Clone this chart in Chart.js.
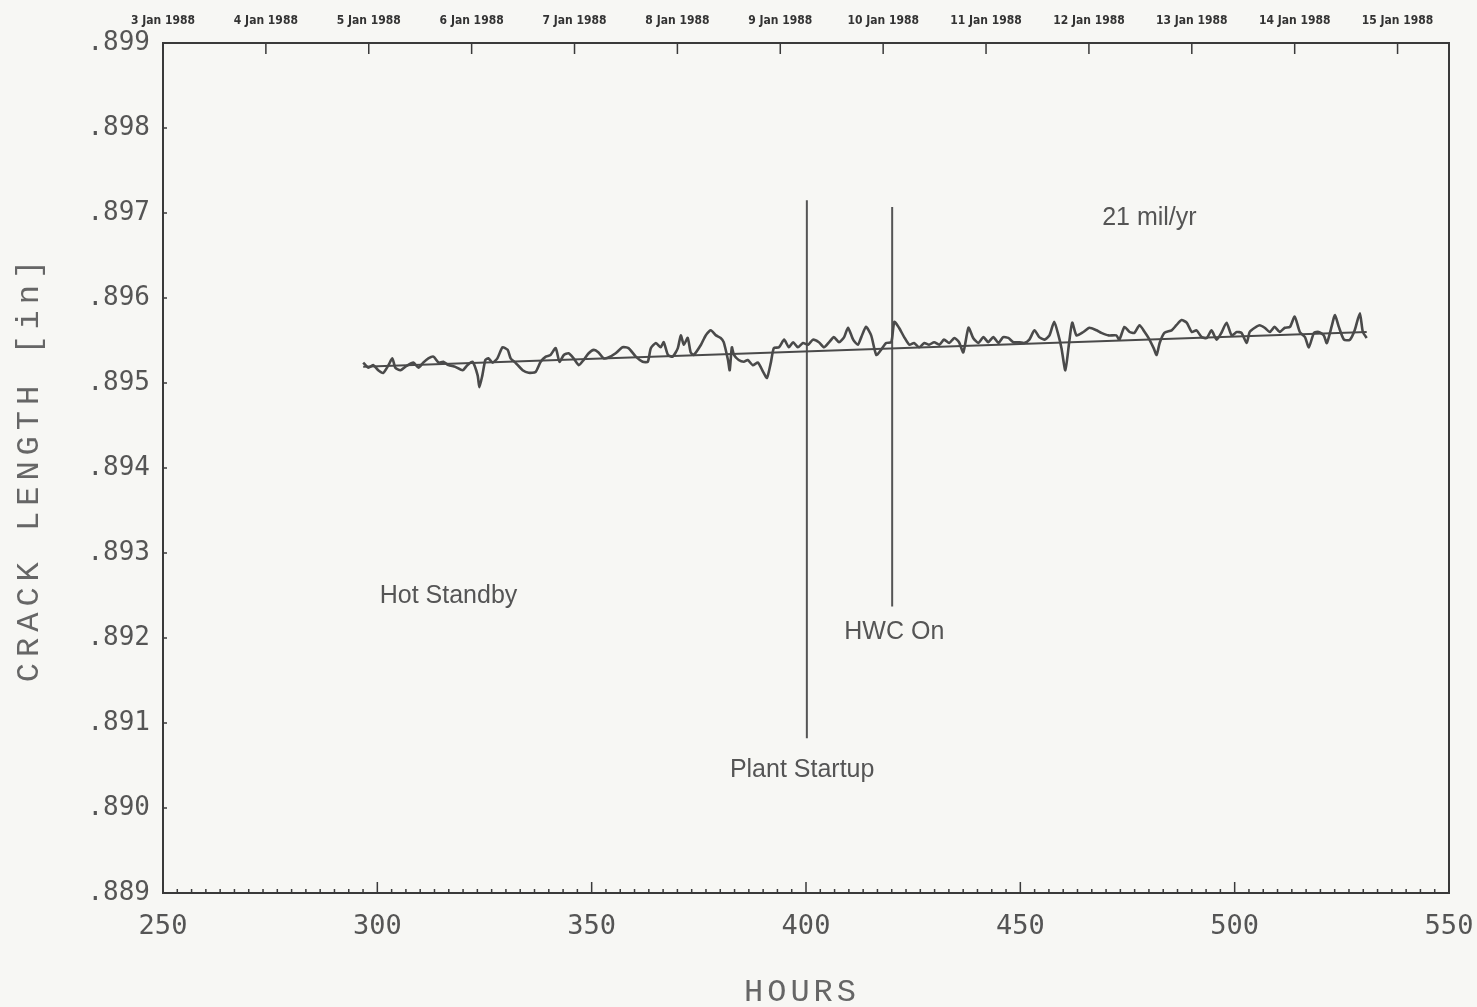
<!DOCTYPE html>
<html>
<head>
<meta charset="utf-8">
<title>Crack length vs hours</title>
<script src="https://cdn.jsdelivr.net/npm/chart.js@4"></script>
<style>
html, body { margin: 0; padding: 0; background: #f7f7f4; }
#chart { display: block; }
</style>
</head>
<body>
<canvas id="chart" width="1477" height="1007"></canvas>
<script>
// Crack length readings (hours, inches)
const hours = [
  296.7, 297.9, 299.1, 300.2, 301.4, 302.6, 303.5, 304.2, 305.4, 306.8,
  308.4, 309.6, 310.7, 311.9, 313.1, 314.3, 315.4, 316.6, 318.2, 319.9,
  321.0, 322.2, 323.4, 323.8, 324.5, 325.2, 325.9, 326.9, 328.0, 329.2,
  330.4, 331.1, 332.2, 333.9, 335.3, 336.9, 338.1, 339.3, 340.4, 341.6,
  342.5, 343.5, 344.6, 345.8, 347.0, 348.1, 349.3, 350.5, 351.6, 352.8,
  353.9, 355.6, 357.2, 358.6, 360.3, 361.9, 363.1, 363.8, 365.0, 366.1,
  366.8, 367.8, 368.9, 370.1, 370.8, 371.5, 372.4, 373.1, 373.8, 375.5,
  376.6, 377.8, 379.0, 380.1, 380.8, 381.8, 382.2, 382.7, 383.2, 384.3,
  385.5, 386.4, 387.6, 388.8, 390.0, 390.9, 391.8, 392.5, 393.7, 394.9,
  396.0, 397.0, 398.1, 399.3, 400.5, 401.6, 403.0, 404.2, 405.4, 406.5,
  407.7, 408.9, 409.8, 411.0, 412.1, 412.9, 414.0, 415.2, 416.4, 417.5,
  418.7, 419.9, 420.6, 421.7, 422.9, 424.1, 425.2, 426.4, 427.6, 428.7,
  429.9, 431.1, 432.2, 433.4, 434.6, 435.7, 436.7, 437.9, 439.0, 440.2,
  441.4, 442.5, 443.7, 444.9, 446.0, 447.2, 448.4, 449.8, 450.9, 452.1,
  453.3, 454.4, 455.6, 456.8, 457.9, 458.9, 459.6, 460.5, 461.4, 462.1,
  463.1, 464.7, 466.1, 467.8, 468.9, 470.6, 472.4, 473.1, 474.3, 475.5,
  476.6, 477.8, 479.0, 479.9, 481.1, 481.8, 482.5, 483.6, 485.3, 486.4,
  487.6, 488.8, 490.0, 491.1, 492.3, 493.5, 494.6, 495.8, 497.0, 498.1,
  499.3, 500.5, 501.6, 502.8, 503.5, 504.7, 505.8, 507.0, 508.2, 509.3,
  510.5, 511.7, 512.9, 514.0, 515.2, 516.4, 517.3, 518.5, 519.6, 520.8,
  521.5, 522.7, 523.4, 524.3, 525.5, 526.9, 528.0, 529.2, 529.9, 530.8
];
const crack = [
  0.89524, 0.89518, 0.89521, 0.89515, 0.89512, 0.89521, 0.89529, 0.89518, 0.89515, 0.89520,
  0.89524, 0.89518, 0.89524, 0.89529, 0.89531, 0.89524, 0.89525, 0.89521, 0.89519, 0.89515,
  0.89521, 0.89525, 0.89509, 0.89495, 0.89509, 0.89527, 0.89529, 0.89524, 0.89529, 0.89542,
  0.89539, 0.89529, 0.89524, 0.89515, 0.89512, 0.89513, 0.89525, 0.89531, 0.89533, 0.89541,
  0.89525, 0.89533, 0.89535, 0.89529, 0.89521, 0.89527, 0.89535, 0.89539, 0.89536, 0.89529,
  0.89530, 0.89535, 0.89542, 0.89541, 0.89531, 0.89525, 0.89525, 0.89541, 0.89547, 0.89542,
  0.89548, 0.89533, 0.89531, 0.89541, 0.89556, 0.89545, 0.89553, 0.89536, 0.89533, 0.89545,
  0.89556, 0.89562, 0.89556, 0.89553, 0.89548, 0.89527, 0.89515, 0.89542, 0.89533, 0.89527,
  0.89525, 0.89527, 0.89521, 0.89524, 0.89513, 0.89506, 0.89524, 0.89541, 0.89542, 0.89551,
  0.89542, 0.89548, 0.89542, 0.89547, 0.89545, 0.89551, 0.89548, 0.89542, 0.89548, 0.89554,
  0.89548, 0.89554, 0.89565, 0.89551, 0.89545, 0.89554, 0.89566, 0.89556, 0.89533, 0.89539,
  0.89547, 0.89548, 0.89572, 0.89565, 0.89554, 0.89545, 0.89547, 0.89542, 0.89547, 0.89545,
  0.89548, 0.89545, 0.89551, 0.89547, 0.89553, 0.89548, 0.89536, 0.89565, 0.89553, 0.89547,
  0.89554, 0.89548, 0.89554, 0.89547, 0.89554, 0.89553, 0.89548, 0.89548, 0.89547, 0.89551,
  0.89562, 0.89554, 0.89551, 0.89556, 0.89572, 0.89556, 0.89541, 0.89515, 0.89548, 0.89571,
  0.89556, 0.89560, 0.89565, 0.89562, 0.89559, 0.89556, 0.89556, 0.89551, 0.89566, 0.89560,
  0.89559, 0.89568, 0.89560, 0.89553, 0.89541, 0.89533, 0.89547, 0.89559, 0.89562, 0.89568,
  0.89574, 0.89571, 0.89560, 0.89562, 0.89554, 0.89553, 0.89562, 0.89551, 0.89560, 0.89571,
  0.89556, 0.89560, 0.89559, 0.89547, 0.89560, 0.89565, 0.89568, 0.89565, 0.89560, 0.89566,
  0.89560, 0.89565, 0.89566, 0.89578, 0.89560, 0.89554, 0.89542, 0.89559, 0.89560, 0.89556,
  0.89547, 0.89568, 0.89580, 0.89566, 0.89551, 0.89551, 0.89562, 0.89582, 0.89560, 0.89553
];

// Straight fit through the data (21 mil/yr)
const fitHours = [296.7, 530.8];
const fitCrack = [0.89519, 0.89560];

// Event markers
const startupHours = [400.2, 400.2];
const startupCrack = [0.89082, 0.89715];
const hwcHours = [420.1, 420.1];
const hwcCrack = [0.89237, 0.89707];

// Calendar axis on top
const dayHours = [250, 274, 298, 322, 346, 370, 394, 418, 442, 466, 490, 514, 538];
const dayLabels = ['3 Jan 1988', '4 Jan 1988', '5 Jan 1988', '6 Jan 1988', '7 Jan 1988',
  '8 Jan 1988', '9 Jan 1988', '10 Jan 1988', '11 Jan 1988', '12 Jan 1988', '13 Jan 1988',
  '14 Jan 1988', '15 Jan 1988'];

// Notes written on the plot
const noteTexts = ['21 mil/yr', 'Hot Standby', 'HWC On', 'Plant Startup'];
const noteHours = [480.1, 316.6, 420.6, 399.1];
const noteCrack = [0.89694, 0.89249, 0.89207, 0.89044];

const ink = '#4a4a4a';
const pts = (xs, ys) => xs.map((h, i) => ({ x: h, y: ys[i] }));

// fundo, moldura, marcas internas, textos
const decoracao = {
  id: 'decoracao',
  beforeDraw(chart) {
    const ctx = chart.ctx;
    ctx.save();
    ctx.fillStyle = '#f7f7f4';
    ctx.fillRect(0, 0, chart.width, chart.height);
    ctx.restore();
  },
  afterDraw(chart) {
    const { ctx, chartArea: a, scales: { x, y } } = chart;
    ctx.save();
    ctx.strokeStyle = '#3a3a3a';
    ctx.lineWidth = 2;
    ctx.strokeRect(a.left, a.top, a.width, a.height);

    ctx.lineWidth = 1.5;
    ctx.beginPath();
    for (let i = 0; i <= 90; i++) {
      const v = 250 + i * 50 / 15;
      const px = x.getPixelForValue(v);
      const len = i % 15 === 0 ? 11 : 4;
      ctx.moveTo(px, a.bottom);
      ctx.lineTo(px, a.bottom - len);
    }
    dayHours.forEach(h => {
      const px = x.getPixelForValue(h);
      ctx.moveTo(px, a.top);
      ctx.lineTo(px, a.top + 11);
    });
    y.ticks.forEach(t => {
      const py = y.getPixelForValue(t.value);
      ctx.moveTo(a.left, py);
      ctx.lineTo(a.left + 4, py);
    });
    ctx.stroke();

    ctx.fillStyle = '#555';
    ctx.font = '25px "Liberation Sans", Arial, sans-serif';
    ctx.textAlign = 'center';
    ctx.textBaseline = 'middle';
    noteTexts.forEach((t, i) => {
      ctx.fillText(t, x.getPixelForValue(noteHours[i]), y.getPixelForValue(noteCrack[i]));
    });

    // axis titles
    ctx.fillStyle = '#666';
    ctx.font = '32px "Liberation Mono", "DejaVu Sans Mono", monospace';
    ctx.letterSpacing = '4px';
    ctx.fillText('HOURS', (a.left + a.right) / 2 - 4, 993);
    ctx.translate(30, (a.top + a.bottom) / 2);
    ctx.rotate(-Math.PI / 2);
    ctx.letterSpacing = '6px';
    ctx.fillText('CRACK LENGTH [in]', 0, 0);
    ctx.restore();
  }
};

const noPad = s => { s.paddingLeft = 0; s.paddingRight = 0; };

new Chart(document.getElementById('chart'), {
  type: 'line',
  data: {
    datasets: [
      { label: 'Crack length', data: pts(hours, crack), borderColor: ink, borderWidth: 2.6, tension: 0.2, pointRadius: 0 },
      { label: 'Fit', data: pts(fitHours, fitCrack), borderColor: ink, borderWidth: 2, pointRadius: 0 },
      { label: 'Plant Startup', data: pts(startupHours, startupCrack), borderColor: '#555', borderWidth: 2, pointRadius: 0 },
      { label: 'HWC On', data: pts(hwcHours, hwcCrack), borderColor: '#555', borderWidth: 2, pointRadius: 0 }
    ]
  },
  options: {
    responsive: false,
    animation: false,
    layout: { padding: { right: 28, left: 0, top: 0, bottom: 0 } },
    plugins: { legend: { display: false }, tooltip: { enabled: false } },
    scales: {
      x: {
        type: 'linear', position: 'bottom', min: 250, max: 550,
        ticks: { stepSize: 50, padding: 18, color: '#555', maxRotation: 0,
          font: { family: '"DejaVu Sans Mono", monospace', size: 27 } },
        grid: { display: false, drawTicks: false },
        border: { display: false },
        afterFit: s => { s.height = 114; noPad(s); }
      },
      top: {
        type: 'linear', position: 'top', min: 250, max: 550,
        afterBuildTicks: s => { s.ticks = dayHours.map(v => ({ value: v })); },
        ticks: { autoSkip: false, maxRotation: 0, padding: 15, color: '#333',
          callback: (v, i) => dayLabels[i],
          font: { family: '"DejaVu Sans Condensed", "DejaVu Sans", sans-serif', size: 12, weight: 'bold' } },
        grid: { display: false, drawTicks: false },
        border: { display: false },
        afterFit: s => { s.height = 43; noPad(s); }
      },
      y: {
        type: 'linear', min: 0.889, max: 0.899,
        ticks: { stepSize: 0.001, padding: 13, color: '#555',
          callback: v => v.toFixed(3).replace(/^0/, ''),
          font: { family: '"DejaVu Sans Mono", monospace', size: 26 } },
        grid: { display: false, drawTicks: false },
        border: { display: false },
        afterFit: s => { s.width = 163; }
      }
    }
  },
  plugins: [decoracao]
});
</script>
</body>
</html>
